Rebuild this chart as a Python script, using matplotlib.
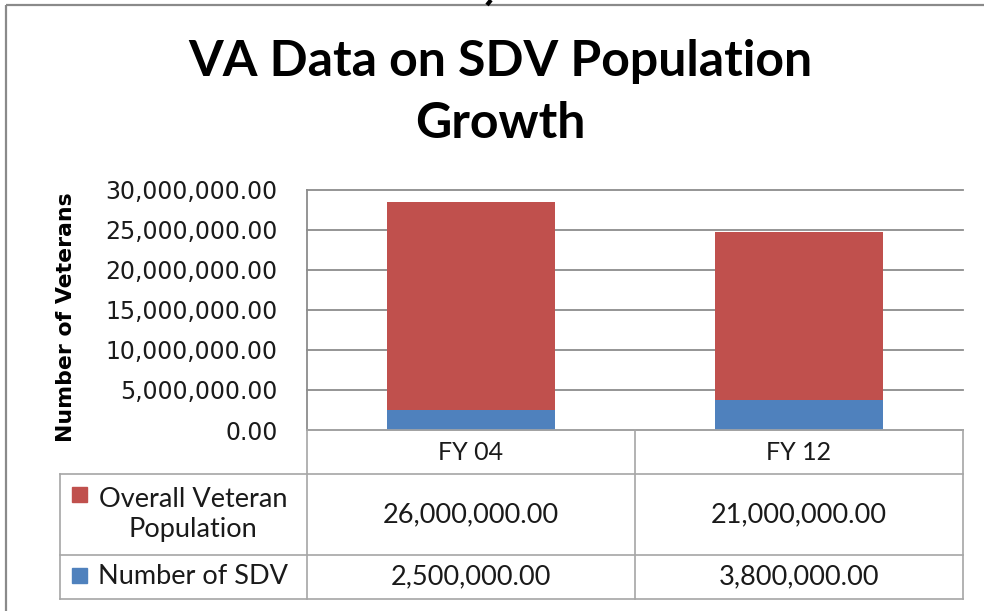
import matplotlib
matplotlib.use("Agg")
import matplotlib.pyplot as plt
from matplotlib.patches import Rectangle
from matplotlib.ticker import StrMethodFormatter

# data
categories = ['FY 04', 'FY 12']
overall_pop = [26000000, 21000000]
sdv_count = [2500000, 3800000]
series_labels = ['Overall Veteran\nPopulation', 'Number of SDV']
yticks = [0, 5000000, 10000000, 15000000, 20000000, 25000000, 30000000]

RED = '#C0504D'
BLUE = '#4F81BD'
GRID = '#8c8c8c'
TLINE = '#a6a6a6'
TXT = '#1a1a1a'
body_font = ['Lato', 'DejaVu Sans']

W, H = 984, 611
fig = plt.figure(figsize=(W / 100, H / 100), dpi=100)

# plot area in pixels: x 307..963, y 190..430
px_l, px_r, px_t, px_b = 307, 963, 190, 430
ax = fig.add_axes([px_l / W, 1 - px_b / H, (px_r - px_l) / W, (px_b - px_t) / H])

x = list(range(len(categories)))
ax.bar(x, sdv_count, width=0.51, color=BLUE, zorder=3)
ax.bar(x, overall_pop, bottom=sdv_count, width=0.51, color=RED, zorder=3)

ax.set_xlim(-0.5, len(categories) - 0.5)
ax.set_ylim(0, 30000000)
ax.set_yticks(yticks)
ax.yaxis.set_major_formatter(StrMethodFormatter('{x:,.2f}'))
ax.set_xticks([])
ax.tick_params(axis='y', length=0, pad=21, labelsize=17, labelcolor=TXT)
for lab in ax.get_yticklabels():
    lab.set_family('DejaVu Sans')
ax.yaxis.grid(True, color=GRID, lw=1.3, zorder=1)
for gl in ax.get_ygridlines():
    gl.set_clip_on(False)
for s in ['top', 'right', 'bottom']:
    ax.spines[s].set_visible(False)
ax.spines['left'].set_color(GRID)
ax.spines['left'].set_linewidth(1.3)

# overlay in pixel coordinates for frame, title and data table
ov = fig.add_axes([0, 0, 1, 1], zorder=5)
ov.set_xlim(0, W)
ov.set_ylim(H, 0)
ov.axis('off')

# outer chart frame (right/bottom cut off in the screenshot)
ov.plot([6, W], [5, 5], color='#8a8a8a', lw=1.6, solid_capstyle='butt')
ov.plot([6, 6], [5, H], color='#8a8a8a', lw=1.6, solid_capstyle='butt')
# tail of a glyph from the text above the frame, cut off by the crop
ov.plot([487, 491], [5, 0], color='black', lw=3, solid_capstyle='butt',
        clip_on=False)

ov.text(500, 62, 'VA Data on SDV Population', fontsize=36, fontweight='bold',
        family=body_font, ha='center', va='center', color='black')
ov.text(500, 124, 'Growth', fontsize=36, fontweight='bold',
        family=body_font, ha='center', va='center', color='black')

ov.text(66, 317, 'Number of Veterans', rotation=90, fontsize=15.8,
        fontweight='bold', family='DejaVu Sans', ha='center', va='center',
        color='black')

# data table
xe = [60, 307, 635, 963]
ye = [430, 474, 555, 599]
lw_t = 1.2
# header row (no corner cell)
ov.plot([xe[1], xe[3]], [ye[0], ye[0]], color=TLINE, lw=lw_t)
for xx in xe[1:]:
    ov.plot([xx, xx], [ye[0], ye[3]], color=TLINE, lw=lw_t)
ov.plot([xe[0], xe[0]], [ye[1], ye[3]], color=TLINE, lw=lw_t)
for yy in ye[1:]:
    ov.plot([xe[0], xe[3]], [yy, yy], color=TLINE, lw=lw_t)

for i, cat in enumerate(categories):
    cx = (xe[i + 1] + xe[i + 2]) / 2
    ov.text(cx, (ye[0] + ye[1]) / 2, cat, fontsize=18, family=body_font,
            ha='center', va='center', color=TXT)

rows = [(series_labels[0], RED, overall_pop), (series_labels[1], BLUE, sdv_count)]
for r, (name, col, vals) in enumerate(rows):
    cy = (ye[r + 1] + ye[r + 2]) / 2
    sq_y = 487 if r == 0 else 568
    ov.add_patch(Rectangle((72, sq_y), 15, 15, color=col))
    ov.text(193, cy, name, fontsize=19.5, family=body_font, ha='center',
            va='center', multialignment='center', color=TXT, linespacing=1.25)
    for i, v in enumerate(vals):
        cx = (xe[i + 1] + xe[i + 2]) / 2
        ov.text(cx, cy, f'{v:,.2f}', fontsize=19.5, family=body_font,
                ha='center', va='center', color=TXT)

fig.savefig('out.png', dpi=100, facecolor='white')
